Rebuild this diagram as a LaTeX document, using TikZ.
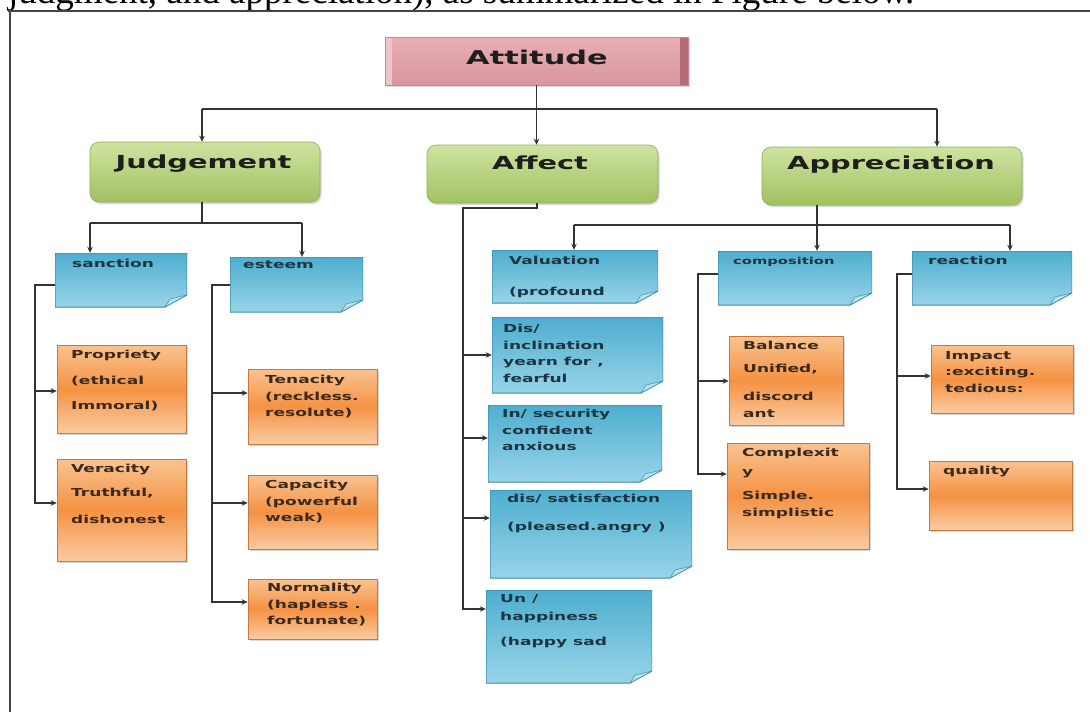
\documentclass[tikz,border=0pt]{standalone}
\usepackage{fontspec}
\setmainfont{Liberation Serif}
\newfontfamily\boxfont[FakeStretch=1.55]{DejaVu Sans}
\newfontfamily\headfont[FakeStretch=1.6]{DejaVu Sans}
\usetikzlibrary{arrows.meta,shadows}
\definecolor{lncol}{HTML}{333333}
\definecolor{greentop}{HTML}{CFE3A0}
\definecolor{greenbot}{HTML}{A2C162}
\definecolor{greenline}{HTML}{8FAF55}
\definecolor{orangeedge}{HTML}{F9C391}
\definecolor{orangeedgeb}{HTML}{FACBA2}
\definecolor{orangemid}{HTML}{F59243}
\definecolor{orangeline}{HTML}{C9773A}
\definecolor{bluetop}{HTML}{4EAECF}
\definecolor{bluebot}{HTML}{98D4E8}
\definecolor{blueline}{HTML}{3C8DAC}
\definecolor{bluefold}{HTML}{B5E2F0}
\definecolor{pinktop}{HTML}{E8AFB5}
\definecolor{pinkmid}{HTML}{F8E1E3}
\definecolor{pinkbot}{HTML}{D8959D}
\definecolor{pinkdark}{HTML}{B46C75}
\definecolor{pinklight}{HTML}{F0C4C8}
\definecolor{pinkline}{HTML}{C98890}
\definecolor{headtext}{HTML}{1E1E1E}
\definecolor{orangetext}{HTML}{3B2A1C}
\definecolor{bluetext}{HTML}{1C3542}
\definecolor{framecol}{HTML}{444444}
\newcommand\mybox[6]{\node[#1, minimum width=#5-#3, minimum height=#6-#4, inner sep=0pt] (#2) at ({(#3+#5)/2},{(#4+#6)/2}) {};}
\tikzset{
  ln/.style={line width=1.4pt, draw=lncol},
  arr/.style={ln, -{Stealth[length=6pt,width=5.5pt]}},
  gbox/.style={rounded corners=9pt, top color=greentop, bottom color=greenbot, draw=greenline, line width=0.6pt,
    drop shadow={shadow xshift=1.5pt, shadow yshift=-2pt, opacity=0.3}},
  obox/.style={top color=orangeedge, bottom color=orangeedgeb, middle color=orangemid, draw=orangeline, line width=0.6pt,
    drop shadow={shadow xshift=1.5pt, shadow yshift=-2pt, opacity=0.3}},
  nbox/.style={path picture={
    \shadedraw[top color=bluetop, bottom color=bluebot, draw=blueline, line width=1pt]
      (path picture bounding box.north west) -- (path picture bounding box.north east)
      -- ([yshift=12pt]path picture bounding box.south east) -- ([xshift=-22pt]path picture bounding box.south east)
      -- (path picture bounding box.south west) -- cycle;
    \filldraw[fill=bluefold, draw=blueline, line width=0.5pt]
      ([xshift=-22pt]path picture bounding box.south east) -- ([yshift=12pt]path picture bounding box.south east)
      -- ([xshift=-17pt,yshift=8pt]path picture bounding box.south east) -- cycle;}},
  abox/.style={top color=pinktop, middle color=pinkmid, bottom color=pinkbot, draw=pinkline, line width=0.6pt,
    path picture={
    \fill[pinkdark] ([xshift=-8pt]path picture bounding box.north east) rectangle (path picture bounding box.south east);
    \fill[pinklight] (path picture bounding box.north west) rectangle ([xshift=7pt]path picture bounding box.south west);},
    drop shadow={shadow xshift=1.5pt, shadow yshift=-2pt, opacity=0.3}},
  stxt/.style={anchor=north west, inner sep=0pt, align=left, font=\boxfont\bfseries\fontsize{11}{16.5}\selectfont},
  otxt/.style={stxt, text=orangetext},
  btxt/.style={stxt, text=bluetext},
  htxt/.style={anchor=base, inner sep=0pt, font=\headfont\bfseries\fontsize{18}{20}\selectfont, text=headtext},
}
\begin{document}
\begin{tikzpicture}[x=1pt,y=-1pt]
\useasboundingbox (0,0) rectangle (1090,712);
\fill[white] (0,0) rectangle (1090,712);
% caption fragment and frame
\node[anchor=base west, inner sep=0pt, font=\fontsize{37}{40}\selectfont] (caption) at (8,3) {judgment, and appreciation), as summarized in Figure below.};
\draw[framecol, line width=2pt] (8,11) -- (1090,11);
\draw[framecol, line width=2pt] (9.5,11) -- (9.5,712);
% boxes
\mybox{abox}{attitude}{385}{37}{688}{85}
\mybox{gbox}{judgement}{90}{142}{320}{202}
\mybox{gbox}{affect}{427}{145}{658}{203}
\mybox{gbox}{appreciation}{762}{147}{1022}{205}
\mybox{nbox}{sanction}{55}{253}{187}{307}
\mybox{nbox}{esteem}{230}{257}{363}{312}
\mybox{nbox}{valuation}{492}{250}{658}{303}
\mybox{nbox}{composition}{718}{251}{872}{305}
\mybox{nbox}{reaction}{912}{251}{1072}{305}
\mybox{nbox}{dis}{492}{317}{663}{393}
\mybox{nbox}{insec}{488}{405}{662}{482}
\mybox{nbox}{dissat}{490}{490}{692}{578}
\mybox{nbox}{unhap}{486}{590}{652}{683}
\mybox{obox}{propriety}{57}{345}{186}{433}
\mybox{obox}{veracity}{57}{459}{186}{561}
\mybox{obox}{tenacity}{248}{369}{377}{444}
\mybox{obox}{capacity}{248}{475}{377}{549}
\mybox{obox}{normality}{248}{579}{377}{639}
\mybox{obox}{balance}{729}{336}{843}{425}
\mybox{obox}{complexity}{727}{443}{869}{549}
\mybox{obox}{impact}{931}{345}{1073}{413}
\mybox{obox}{quality}{929}{461}{1072}{530}
% headings
\node[htxt, font=\headfont\bfseries\fontsize{19}{20}\selectfont] (attitude-t) at (537,64.5) {Attitude};
\node[htxt] (judgement-t) at (203.5,168.5) {Judgement};
\node[htxt] (affect-t) at (540,169.5) {Affect};
\node[htxt] (appreciation-t) at (891,169.5) {Appreciation};
% blue texts
\node[btxt] (sanction-t) at (72,259) {sanction};
\node[btxt] (esteem-t) at (243,261) {esteem};
\node[btxt, font=\boxfont\bfseries\fontsize{9.5}{14}\selectfont] (composition-t) at (733,257) {composition};
\node[btxt] (reaction-t) at (928,256) {reaction};
\node[btxt] (valuation-t) at (509,256) {Valuation\\[14.5pt](profound};
\node[btxt] (dis-t) at (503,324) {Dis/\\inclination\\yearn for ,\\fearful};
\node[btxt] (insec-t) at (502,409) {In/ security\\confident\\anxious};
\node[btxt] (dissat-t) at (507,494) {dis/ satisfaction\\[11.5pt](pleased.angry )};
\node[btxt] (unhap-t) at (500,594) {Un /\\[1.5pt]happiness\\[8.5pt](happy sad};
% orange texts
\node[otxt] (propriety-t) at (71,350) {Propriety\\[9pt](ethical\\[8.5pt]Immoral)};
\node[otxt] (veracity-t) at (71,464) {Veracity\\[7.5pt]Truthful,\\[10.5pt]dishonest};
\node[otxt] (tenacity-t) at (265,375) {Tenacity\\(reckless.\\resolute)};
\node[otxt] (capacity-t) at (265,480) {Capacity\\(powerful\\weak)};
\node[otxt] (normality-t) at (267,583) {Normality\\(hapless .\\fortunate)};
\node[otxt] (balance-t) at (743,341) {Balance\\[6.5pt]Unified,\\[11.5pt]discord\\ant};
\node[otxt] (complexity-t) at (742,448) {Complexit\\[2.5pt]y\\[7.5pt]Simple.\\simplistic};
\node[otxt] (impact-t) at (945,351) {Impact\\:exciting.\\tedious:};
\node[otxt] (quality-t) at (943,466) {quality};
% top level connectors
\coordinate (bL) at (202,109);
\coordinate (bR) at (937,109);
\draw[ln] (bL) -- (bR);
\draw[arr] (attitude.south) -- (attitude.south |- affect.north);
\draw[arr] (bL) -- (bL |- judgement.north);
\draw[arr] (bR) -- (bR |- appreciation.north);
% judgement
\coordinate (jM) at (202,223);
\coordinate (jL) at (90,223);
\coordinate (jR) at (302,223);
\draw[ln] (jM |- judgement.south) -- (jM);
\draw[ln] (jL) -- (jR);
\draw[arr] (jL) -- (jL |- sanction.north);
\draw[arr] (jR) -- (jR |- esteem.north);
% sanction
\coordinate (sS) at (35,285);
\draw[arr] (sanction.west |- sS) -- (sS) |- (veracity.west |- 0,503);
\draw[arr] (sS |- 0,391) -- (propriety.west |- 0,391);
% esteem
\coordinate (eS) at (212,285);
\draw[arr] (esteem.west |- eS) -- (eS) |- (normality.west |- 0,602);
\draw[arr] (eS |- 0,393) -- (tenacity.west |- 0,393);
\draw[arr] (eS |- 0,503) -- (capacity.west |- 0,503);
% affect
\coordinate (a1) at (537,208);
\coordinate (aS) at (463,208);
\draw[arr] (a1 |- affect.south) -- (a1) -- (aS) |- (unhap.west |- 0,609);
\draw[arr] (aS |- 0,355) -- (dis.west |- 0,355);
\draw[arr] (aS |- 0,438) -- (insec.west |- 0,438);
\draw[arr] (aS |- 0,518) -- (dissat.west |- 0,518);
% appreciation
\coordinate (pM) at (817,225);
\coordinate (pL) at (574,225);
\coordinate (pR) at (1010,225);
\draw[ln] (pL) -- (pR);
\draw[arr] (pM |- appreciation.south) -- (pM |- composition.north);
\draw[arr] (pL) -- (pL |- valuation.north);
\draw[arr] (pR) -- (pR |- reaction.north);
% composition
\coordinate (cS) at (698,274);
\draw[arr] (composition.west |- cS) -- (cS) |- (complexity.west |- 0,474);
\draw[arr] (cS |- 0,381) -- (balance.west |- 0,381);
% reaction
\coordinate (rS) at (897,274);
\draw[arr] (reaction.west |- rS) -- (rS) |- (quality.west |- 0,489);
\draw[arr] (rS |- 0,376) -- (impact.west |- 0,376);
\end{tikzpicture}
\end{document}
